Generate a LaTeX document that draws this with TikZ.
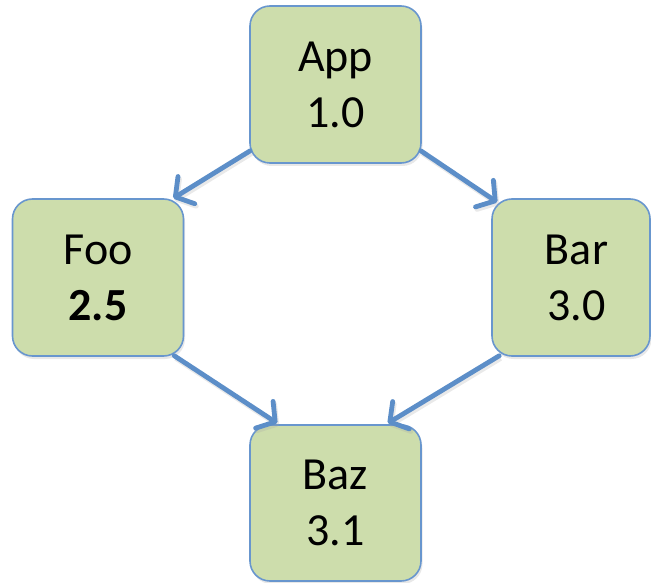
\documentclass[tikz,border=0pt]{standalone}
\usepackage{fontspec}
\setmainfont{Carlito}
\usetikzlibrary{arrows.meta,shadows}
\definecolor{boxfill}{RGB}{205,221,172}
\definecolor{boxline}{RGB}{104,150,206}
\definecolor{arrowcol}{RGB}{92,142,200}
\tikzset{
  pkg/.style={draw=boxline, line width=1.6pt, fill=boxfill, rounded corners=20pt,
    minimum height=157pt, align=center, inner sep=0pt,
    font=\fontsize{46}{56}\selectfont,
    drop shadow={opacity=0.18, shadow xshift=1.5pt, shadow yshift=-3pt}},
  dep/.style={draw=arrowcol, line width=4.8pt, line cap=round,
    -{Straight Barb[length=13pt, width=32pt, line width=4.8pt, round]},
    preaction={draw=black!35, opacity=0.25, line width=5pt, transform canvas={xshift=1.5pt, yshift=-2.5pt}}}
}
\begin{document}
\begin{tikzpicture}[x=1pt,y=1pt]
\useasboundingbox (0,0) rectangle (651,582);
\node[pkg, minimum width=171pt] (app) at (335.5,497.5) {App\\1.0};
\node[pkg, minimum width=171pt] (foo) at (98,304.5) {Foo\\\textbf{2.5}};
\node[pkg, minimum width=158pt] (bar) at (571,304.5) {\hspace*{11pt}Bar\\\hspace*{11pt}3.0};
\node[pkg, minimum width=171pt, minimum height=156pt] (baz) at (335.5,79) {Baz\\3.1};
\draw[dep] ([xshift=1pt,yshift=13pt]app.south west) -- ([xshift=-11pt,yshift=0pt]foo.north east);
\draw[dep] ([xshift=-1pt,yshift=13pt]app.south east) -- ([xshift=6pt,yshift=-4pt]bar.north west);
\draw[dep] ([xshift=-10pt,yshift=1pt]foo.south east) -- ([xshift=28pt,yshift=1pt]baz.north west);
\draw[dep] ([xshift=8pt,yshift=1pt]bar.south west) -- ([xshift=-34pt,yshift=1pt]baz.north east);
\end{tikzpicture}
\end{document}
